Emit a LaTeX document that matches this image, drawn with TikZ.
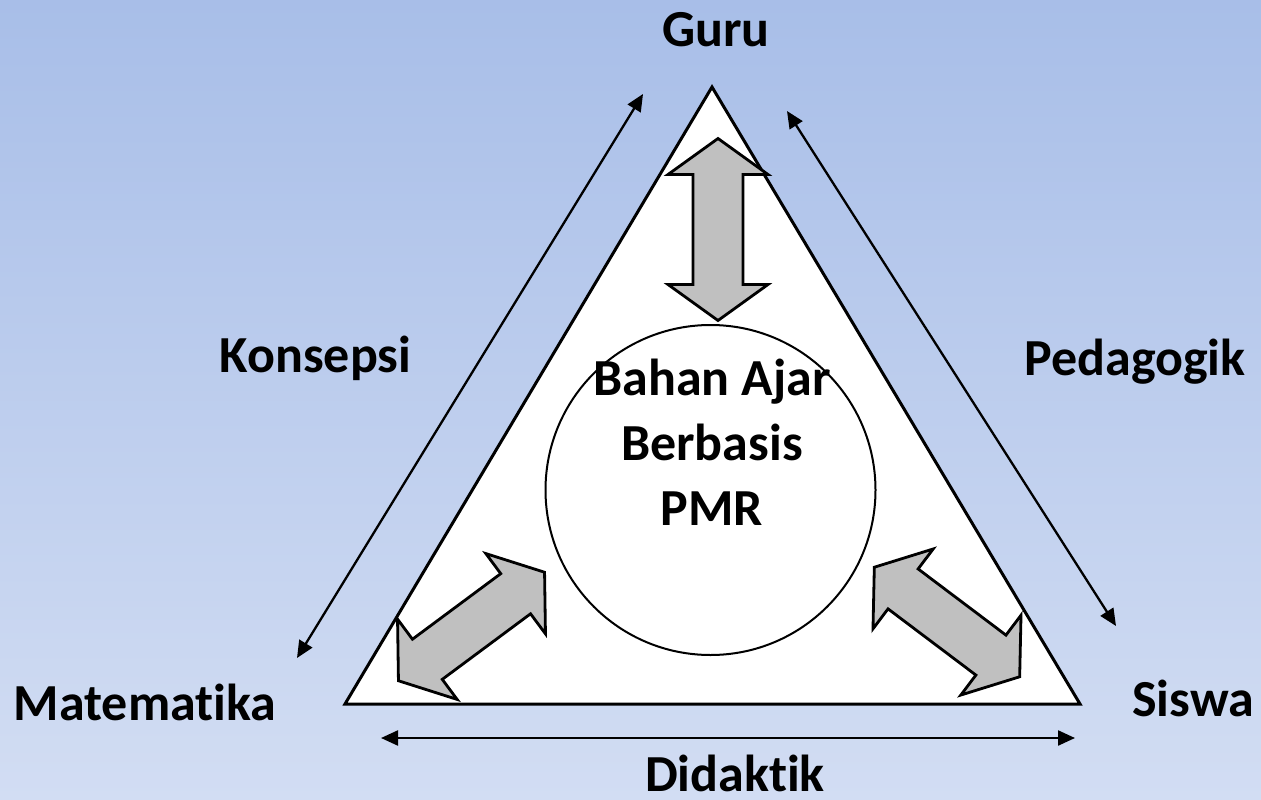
\documentclass[tikz,border=0pt]{standalone}
\usepackage{fontspec}
\setmainfont{Carlito}[Ligatures=NoCommon]
\usetikzlibrary{arrows.meta}
\definecolor{bgatas}{RGB}{168,190,232}
\definecolor{bgbawah}{RGB}{210,221,243}
\definecolor{abu}{RGB}{192,192,192}

\begin{document}
\begin{tikzpicture}[x=1pt, y=-1pt,
	teks/.style = {font=\fontsize{52}{65}\selectfont\bfseries,
				   inner sep=0pt},
	panah/.style = {line width=2.3pt,
					{Triangle[length=17pt,width=15pt]}-{Triangle[length=17pt,width=15pt]}},
	blok/.pic = {\draw[line width=2.8pt, fill=abu, line join=miter]
			(91,0) -- (55,50) -- (55,25) -- (-55,25) -- (-55,50) -- (-91,0) --
			(-55,-50) -- (-55,-25) -- (55,-25) -- (55,-50) -- cycle;}]

	\shade[top color=bgatas, bottom color=bgbawah] (0,0) rectangle (1261,800);
	\useasboundingbox (0,0) rectangle (1261,800);

	\coordinate (G) at (712,87);
	\coordinate (M) at (345,704);
	\coordinate (S) at (1080,704);
	\draw[line width=3pt, fill=white] (G) -- (M) -- (S) -- cycle;

	\draw (710.5,490) node[draw = black,
					 shape = circle,
					 fill = white,
					 line width = 2pt,
					 minimum size = 330pt,
					 inner sep = 0pt] (L) {};

	\draw (712,442) node[teks,
					 align = center] (B) {Bahan Ajar\\Berbasis\\PMR};

	\pic[rotate=90] at (718,229.5) {blok};
	\pic[rotate=36.6] at (471.5,626.5) {blok};
	\pic[rotate=-37] at (947,622) {blok};

	\draw (716,47) node[teks, anchor = base] (guru) {Guru};
	\draw (315.5,372) node[teks, anchor = base] (konsepsi) {Konsepsi};
	\draw (1135,375) node[teks, anchor = base] (pedagogik) {Pedagogik};
	\draw (145,720) node[teks, anchor = base] (matematika) {Matematika};
	\draw (1193,716) node[teks, anchor = base] (siswa) {Siswa};
	\draw (735,791) node[teks, anchor = base] (didaktik) {Didaktik};

	\coordinate (k1) at (297,658);
	\coordinate (k2) at (643,94);
	\coordinate (p1) at (787,111);
	\coordinate (p2) at (1116,626);
	\coordinate (d1) at (381,738);
	\coordinate (d2) at (1075,738);

	\draw[panah] (k1) -- (k2);
	\draw[panah] (p1) -- (p2);
	\draw[panah] (d1) -- (d2);
\end{tikzpicture}
\end{document}
